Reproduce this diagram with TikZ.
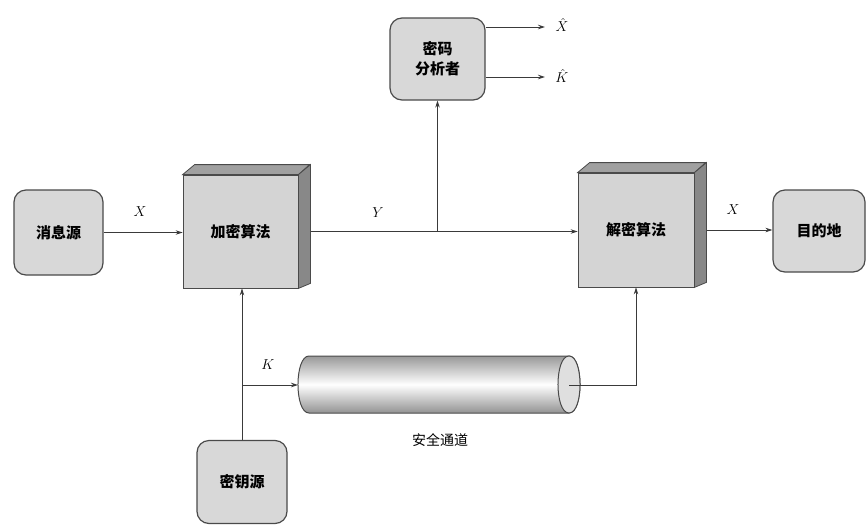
\documentclass[tikz,border=0pt]{standalone}
\usepackage{fontspec}
\newfontfamily\cjk{Noto Sans CJK SC}
\usetikzlibrary{arrows.meta,backgrounds,calc}
\definecolor{linec}{HTML}{3A3A3A}
\definecolor{boxb}{HTML}{4A4A4A}
\definecolor{boxf}{HTML}{D8D8D8}
\definecolor{frontf}{HTML}{D4D4D4}
\definecolor{topf}{HTML}{A0A0A0}
\definecolor{sidef}{HTML}{888888}
\begin{document}
\begin{tikzpicture}[x=1pt,y=-1pt,
  line/.style={draw=linec, line width=0.9pt},
  arr/.style={line, -{Stealth[length=7pt,width=4.5pt]}},
  rbox/.style={draw=boxb, line width=1.2pt, fill=boxf, rounded corners=12pt,
    font=\cjk\bfseries\fontsize{15}{20}\selectfont, align=center, inner sep=0pt},
  cube/.style={draw=boxb, line width=0.8pt, fill=frontf, minimum width=115pt,
    minimum height=113pt, font=\cjk\bfseries\fontsize{15}{18}\selectfont, inner sep=0pt},
  lab/.style={font=\fontsize{14}{16}\selectfont, inner sep=0pt},
  cjklab/.style={font=\cjk\fontsize{14}{16}\selectfont, inner sep=0pt}]
\useasboundingbox (0,0) rectangle (866,525);

% nodes
\node[rbox, minimum width=89pt, minimum height=85pt] (src) at (58.5,232.5) {消息源};
\node[cube] (enc) at (240.5,231.5) {加密算法};
\filldraw[fill=topf, draw=boxb, line width=0.8pt] (enc.north west) -- ++(12,-10) -- ++(115,0) -- (enc.north east) -- cycle;
\filldraw[fill=sidef, draw=boxb, line width=0.8pt] (enc.north east) -- ++(12,-10) -- ($(enc.south east)+(12,-5)$) -- (enc.south east) -- cycle;
\node[cube, minimum width=116pt, minimum height=114pt] (dec) at (636,230) {解密算法};
\filldraw[fill=topf, draw=boxb, line width=0.8pt] (dec.north west) -- ++(12,-10) -- ++(116,0) -- (dec.north east) -- cycle;
\filldraw[fill=sidef, draw=boxb, line width=0.8pt] (dec.north east) -- ++(12,-10) -- ($(dec.south east)+(12,-5)$) -- (dec.south east) -- cycle;
\node[rbox, minimum width=92pt, minimum height=82pt] (dst) at (819,231) {目的地};
\node[rbox, minimum width=95pt, minimum height=82pt] (ana) at (437.5,59) {密码\\分析者};
\node[rbox, minimum width=90pt, minimum height=83pt] (key) at (242,482) {密钥源};

% secure channel (cylinder): left end centre x=309, right end centre x=569, radii 11 / 28.5
\shade[top color=gray!80, bottom color=gray!85, middle color=white]
  (309,356) -- (569,356) .. controls (583.7,356) and (583.7,413) .. (569,413)
  -- (309,413) .. controls (294.3,413) and (294.3,356) .. (309,356) -- cycle;
\draw[draw=boxb, line width=1pt]
  (309,356) -- (569,356) .. controls (583.7,356) and (583.7,413) .. (569,413)
  -- (309,413) .. controls (294.3,413) and (294.3,356) .. (309,356) -- cycle;
\filldraw[fill=gray!25, draw=boxb, line width=1pt]
  (569,356) .. controls (583.7,356) and (583.7,413) .. (569,413)
  .. controls (554.3,413) and (554.3,356) .. (569,356) -- cycle;
\coordinate (chl) at (298,385);
\coordinate (chr) at (569,385);
\node[cjklab] (chlab) at (440,440) {安全通道};

% connectors
\begin{pgfonlayer}{background}
\draw[arr] (src.east) -- (src.east -| enc.west);
\draw[arr] (enc.east) -- (enc.east -| dec.west);
\coordinate (br) at (ana.south |- enc.east);
\draw[arr] (br) -- (ana.south);
\coordinate (xh) at (545,27);
\coordinate (kh) at (545,77);
\draw[arr] (ana.east |- xh) -- (xh);
\draw[arr] (ana.east |- kh) -- (kh);
\draw[arr] (dec.east) -- (dec.east -| dst.west);
\draw[arr] (key.north) -- (key.north |- enc.south);
\coordinate (kb) at (242,385);
\draw[arr] (kb) -- (chl);
\end{pgfonlayer}
\draw[arr] (chr) -| (dec.south);

% labels
\node[lab] (lx1) at (140,212) {$X$};
\node[lab] (ly) at (378,213) {$Y$};
\node[lab] (lx2) at (733,210) {$X$};
\node[lab] (lk) at (268,365) {$K$};
\node[lab] (lxh) at (562,25) {$\hat{X}$};
\node[lab] (lkh) at (562,76) {$\hat{K}$};
\end{tikzpicture}
\end{document}
